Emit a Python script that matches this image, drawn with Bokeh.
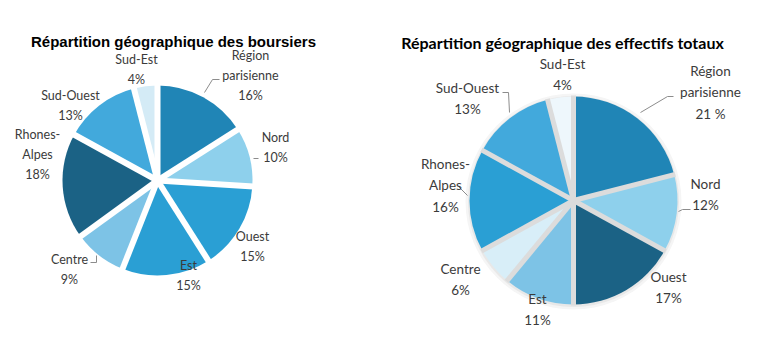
import math
from bokeh.plotting import figure
from bokeh.models import Range1d, ColumnDataSource
from bokeh.core.properties import value
from bokeh.embed import file_html
from bokeh.resources import INLINE

W, H = 781, 352

# ---------------- data ----------------
regions = ["Région parisienne", "Nord", "Ouest", "Est", "Centre",
           "Rhones-Alpes", "Sud-Ouest", "Sud-Est"]
label_names = ["Région\nparisienne", "Nord", "Ouest", "Est", "Centre",
               "Rhones-\nAlpes", "Sud-Ouest", "Sud-Est"]
boursiers_pct = [16, 10, 15, 15, 9, 18, 13, 4]
effectifs_pct = [21, 12, 17, 11, 6, 16, 13, 4]
boursiers_suffix = ["%"] * 8
effectifs_suffix = [" %", "%", "%", "%", "%", "%", "%", "%"]

title_left = "Répartition géographique des boursiers"
title_right = "Répartition géographique des effectifs totaux"

# ---------------- styles / layout ----------------
colors_left = ["#2085B6", "#8ED0EC", "#2A9FD4", "#2A9FD4", "#7DC3E6",
               "#1B6285", "#42A9DC", "#D4EBF6"]
colors_right = ["#2085B6", "#8ED0EC", "#1B6285", "#7DC3E6", "#D8EEF8",
                "#2A9FD4", "#42A9DC", "#EEF7FC"]

left_cfg = dict(cx=157, cy=180, r=95)
right_cfg = dict(cx=573, cy=200, r=104)

# label block centres relative to the pie centre (pixel offsets, y down)
left_label_off = [(93, -105), (118, -33), (95, 66), (31, 95), (-88, 89),
                  (-120, -26), (-87, -75), (-21, -111)]
right_label_off = [(137, -108), (132, -6), (95, 87), (-36, 109), (-113, 79),
                   (-128, -15), (-106, -102), (-11, -126)]

# leader lines, relative to the pie centre
left_leaders = [
    [(47, -88), (55, -101), (62, -101)],
    [(96, -22), (101, -22)],
    [(-61, 75), (-61, 82), (-67, 82)],
]
right_leaders = [
    [(67, -88), (94, -104), (100, -104)],
    [(105, 11), (109, 9), (117, 9)],
    [(-115, -14), (-106, -5)],
    [(-71, -108), (-65, -108), (-64, -88)],
]

TEXT_COLOR = "#3B3B3B"

p = figure(width=W, height=H, x_range=Range1d(0, W), y_range=Range1d(0, H),
           output_backend="svg", toolbar_location=None,
           x_axis_location=None, y_axis_location=None, min_border=0)
p.outline_line_color = None
p.grid.visible = False
p.background_fill_color = "white"
p.border_fill_color = "white"


def yv(py):
    return H - py


def draw_pie(cfg, vals, colors, gap_color, gap_width):
    total = float(sum(vals))
    cum = 0.0
    starts, ends = [], []
    for v in vals:
        starts.append(math.pi / 2 - 2 * math.pi * (cum + v) / total)
        ends.append(math.pi / 2 - 2 * math.pi * cum / total)
        cum += v
    cx, cy = cfg["cx"], yv(cfg["cy"])
    src = ColumnDataSource(dict(x=[cx] * len(vals), y=[cy] * len(vals),
                                s=starts, e=ends, c=colors))
    p.wedge(x="x", y="y", radius=cfg["r"], start_angle="s", end_angle="e",
            direction="anticlock", fill_color="c", line_color=None,
            source=src)
    # gaps along the slice boundaries
    rr = cfg["r"] + 1
    p.segment(x0=[cx] * len(ends), y0=[cy] * len(ends),
              x1=[cx + rr * math.cos(a) for a in ends],
              y1=[cy + rr * math.sin(a) for a in ends],
              line_color=gap_color, line_width=gap_width, line_cap="butt")


def draw_labels(cfg, vals, suffix, offs, font, size, lh):
    xs, ys, txt = [], [], []
    for name, v, sfx, (dx, dy) in zip(label_names, vals, suffix, offs):
        xs.append(cfg["cx"] + dx)
        ys.append(yv(cfg["cy"] + dy))
        txt.append(f"{name}\n{v}{sfx}")
    p.text(x=xs, y=ys, text=txt, text_align="center", text_baseline="middle",
           text_font=value(font), text_font_size=size, text_color=TEXT_COLOR,
           text_line_height=lh)


def draw_leaders(cfg, leaders):
    xs = [[cfg["cx"] + a for a, b in seg] for seg in leaders]
    ys = [[yv(cfg["cy"] + b) for a, b in seg] for seg in leaders]
    p.multi_line(xs=xs, ys=ys, line_color="#8C8C8C", line_width=1)


# right pie soft shadow
p.circle(x=[right_cfg["cx"]], y=[yv(right_cfg["cy"] + 1)],
         radius=right_cfg["r"] + 4, fill_color="#F5F5F5", line_color=None)
p.circle(x=[right_cfg["cx"]], y=[yv(right_cfg["cy"] + 1)],
         radius=right_cfg["r"] + 1.5, fill_color="#E8E8E8", line_color=None)

draw_pie(left_cfg, boursiers_pct, colors_left, "white", 6)
draw_pie(right_cfg, effectifs_pct, colors_right, "#DCDCDC", 5)

draw_leaders(left_cfg, left_leaders)
draw_leaders(right_cfg, right_leaders)

draw_labels(left_cfg, boursiers_pct, boursiers_suffix, left_label_off,
            "Lato", "12.5px", 1.35)
draw_labels(right_cfg, effectifs_pct, effectifs_suffix, right_label_off,
            "Lato", "13.5px", 1.33)

p.text(x=[173], y=[yv(41)], text=[title_left], text_align="center",
       text_baseline="middle", text_font=value("Liberation Sans"),
       text_font_size="15px", text_font_style="bold", text_color="black")
p.text(x=[562], y=[yv(42)], text=[title_right], text_align="center",
       text_baseline="middle", text_font=value("Lato"),
       text_font_size="16px", text_font_style="bold", text_color="black")

open("out.html", "w").write(file_html(p, INLINE))
